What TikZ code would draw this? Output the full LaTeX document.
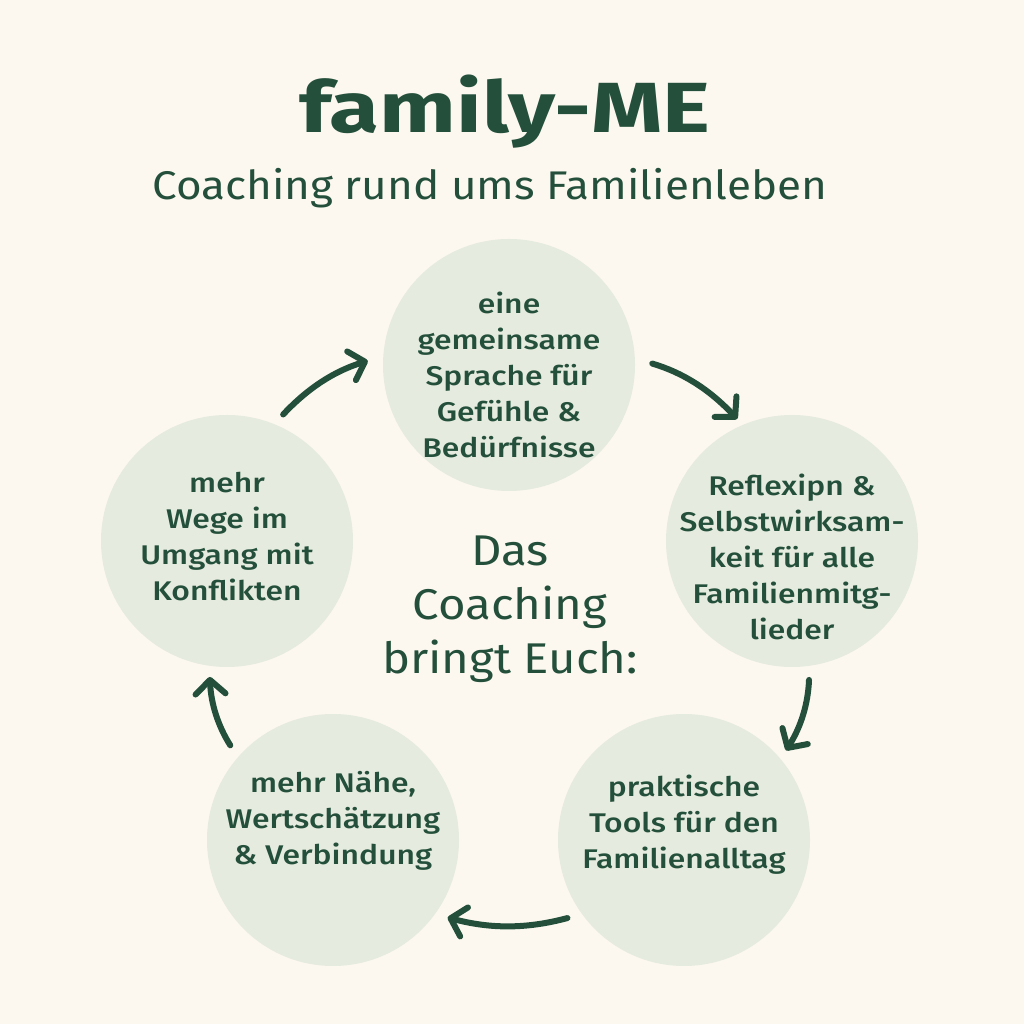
\documentclass[tikz,border=0pt]{standalone}
\usepackage{fontspec}
\setmainfont{Fira Sans}
\newfontfamily\medfont{Fira Sans Medium}[FakeStretch=1.18]
\newfontfamily\widefont{Fira Sans}[FakeStretch=1.1]
\newfontfamily\titlefont{Fira Sans Bold}[FakeStretch=1.28]
\usetikzlibrary{arrows.meta}

\definecolor{famgreen}{HTML}{24503B}
\definecolor{circlegreen}{HTML}{E5EBDE}
\definecolor{bgcream}{HTML}{FCF8F0}

\begin{document}
\begin{tikzpicture}[x=1pt,y=1pt,
			topic node/.style={circle,fill=circlegreen,minimum size=252pt,inner sep=0pt},
			topic text/.style={text=famgreen,align=center,font=\medfont\fontsize{27}{36}\selectfont},
			cycle arrow/.style={draw=famgreen,line width=6pt,line cap=round,-{Straight Barb[length=14pt,width=30pt,round]},bend left=15}
			]
			
			\def \r {126};
			
			\fill[bgcream] (0,0) rectangle (1024,1024);
			\useasboundingbox (0,0) rectangle (1024,1024);
			
			\node[text=famgreen,anchor=base,font=\titlefont\fontsize{71}{71}\selectfont] (title) at (505,891) {family-ME};
			\node[text=famgreen,anchor=base,font=\widefont\fontsize{40}{40}\selectfont] (subtitle) at (490,824) {Coaching rund ums Familienleben};
			
			\foreach \nm/\x/\y/\dy/\txt in {
				sprache/509/659/-10/{eine\\gemeinsame\\Sprache für\\Gefühle \&\\Bedürfnisse},
				reflexion/792/483/-16/{Reflexipn \&\\Selbstwirksam-\\keit für alle\\Familienmitg-\\lieder},
				tools/684/184/15/{praktische\\Tools für den\\Familienalltag},
				naehe/333/184/19/{mehr Nähe,\\Wertschätzung\\\& Verbindung},
				wege/227/483/4/{mehr\\Wege im\\Umgang mit\\Konflikten}} {
				
				\node[topic node] (\nm) at (\x,\y) {};
				\node[topic text] (\nm-text) at ([yshift=\dy pt]\nm) {\txt};
			}
			
			\node[text=famgreen,align=center,font=\widefont\fontsize{43}{54}\selectfont] (coaching) at (510,415) {Das\\Coaching\\bringt Euch:};
			
			\draw[cycle arrow,shorten <=13pt,shorten >=16pt] (wege.68) to (sprache.176);
			\draw[cycle arrow,shorten <=18pt,shorten >=8pt] (sprache.3) to (reflexion.113);
			\draw[cycle arrow,shorten <=14pt,shorten >=10pt] (reflexion.-82) to (tools.40);
			\draw[cycle arrow,shorten <=15pt,shorten >=13pt] (tools.216) to (naehe.-36);
			\draw[cycle arrow,shorten <=14pt,shorten >=11pt] (naehe.139) to (wege.262);
			
\end{tikzpicture}
\end{document}
